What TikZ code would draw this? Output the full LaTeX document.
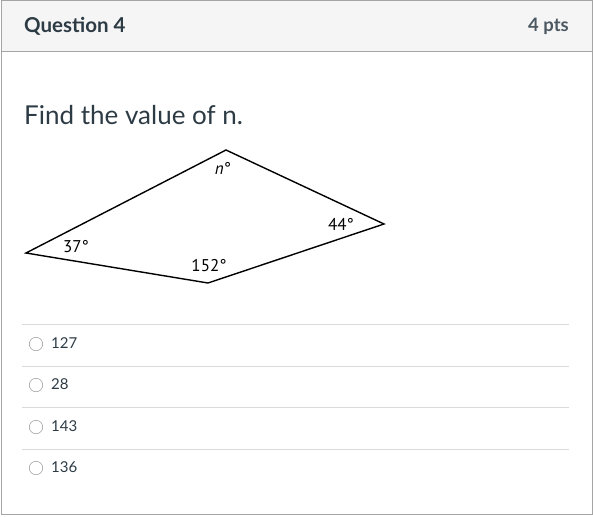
\documentclass[tikz,border=0pt]{standalone}
\usepackage{fontspec}
\setmainfont{Lato}
\newfontfamily\figfont{PT Sans}
\definecolor{canvastext}{HTML}{2D3B45}
\definecolor{headerfill}{HTML}{F5F5F5}
\definecolor{framegray}{HTML}{A5A5A5}
\definecolor{rulegray}{HTML}{DADADA}
\definecolor{radiogray}{HTML}{8A8A8A}
\begin{document}
\begin{tikzpicture}[x=1pt,y=-1pt]
        % Define styles for nodes and edges
        \tikzstyle{angle}=[font=\figfont\fontsize{17}{19}\selectfont, inner sep=0pt]
        \tikzstyle{answer}=[anchor=west, font=\fontsize{15}{17}\selectfont, text=canvastext, inner sep=0pt]
        \tikzstyle{radio}=[circle, draw=radiogray, fill=white, minimum size=13.5pt, inner sep=0pt]
        \tikzstyle{sep}=[draw=rulegray, line width=0.8pt]

        \useasboundingbox (0,0) rectangle (593,516);

        % Define the card
        \fill[headerfill] (1,1) rectangle (592,51);
        \draw[framegray, line width=1pt] (1,1) rectangle (592,514);
        \draw[framegray, line width=0.8pt] (1,51) -- (592,51);
        \node[anchor=west, text=canvastext, font=\bfseries\fontsize{20.5}{22}\selectfont, inner sep=0pt] (title) at (24,26) {Question 4};
        \node[anchor=east, text=canvastext!85, font=\bfseries\fontsize{18.5}{20}\selectfont, inner sep=0pt] (pts) at (569,26) {4 pts};
        \node[anchor=west, text=canvastext, font=\fontsize{26}{30}\selectfont, inner sep=0pt] (prompt) at (24,115) {Find the value of n.};

        % Define vertices
        \coordinate (left) at (26,253);
        \coordinate (top) at (226,150);
        \coordinate (right) at (384,224);
        \coordinate (bottom) at (208,283);

        % Draw edges
        \draw[line width=1.4pt, line join=miter] (left) -- (top) -- (right) -- (bottom) -- cycle;

        % Angle labels
        \node[angle] (an) at (223,168) {\textit{n}°};
        \node[angle] (a37) at (76,247) {37°};
        \node[angle] (a44) at (341,224) {44°};
        \node[angle] (a152) at (209,266) {152°};

        % Answer choices
        \draw[sep] (22,324) -- (569,324);
        \draw[sep] (22,366) -- (569,366);
        \draw[sep] (22,407) -- (569,407);
        \draw[sep] (22,449) -- (569,449);
        \node[radio] (r1) at (36,344) {};
        \node[radio] (r2) at (36,385) {};
        \node[radio] (r3) at (36,427) {};
        \node[radio] (r4) at (36,468) {};
        \node[answer] (c1) at (51,343) {127};
        \node[answer] (c2) at (51,384) {28};
        \node[answer] (c3) at (51,426) {143};
        \node[answer] (c4) at (51,467) {136};

      \end{tikzpicture}
\end{document}
